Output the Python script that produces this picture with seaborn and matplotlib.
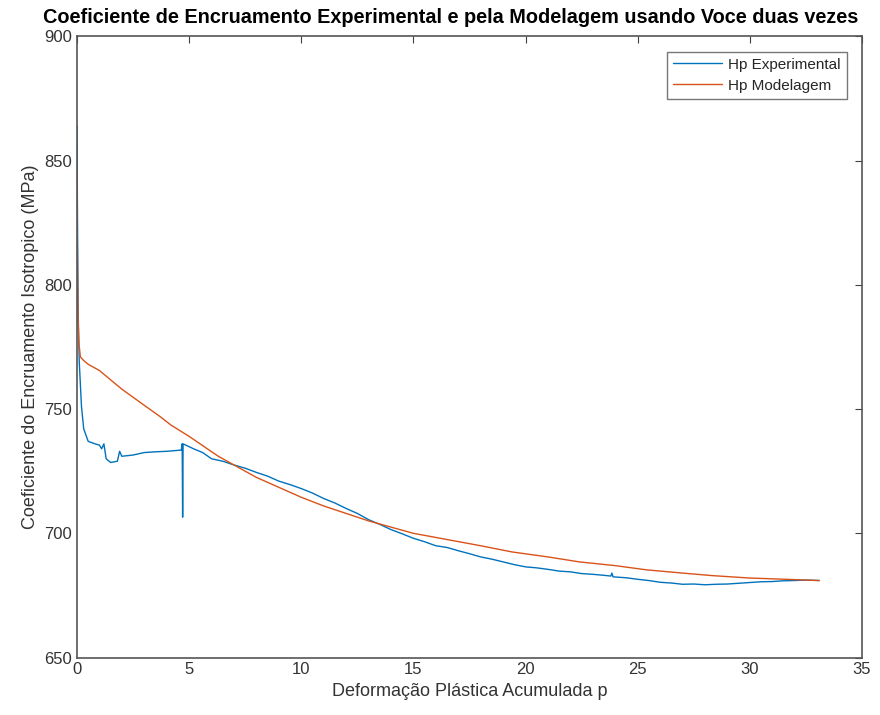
import pandas as pd
import matplotlib.pyplot as plt
import seaborn as sns

# dados
p_exp = [0.0, 0.01, 0.02, 0.05, 0.1, 0.2, 0.3, 0.5, 0.8, 1.0, 1.1, 1.2, 1.3, 1.5, 1.8, 1.9,
         2.0, 2.5, 3.0, 3.5, 4.0, 4.65, 4.69, 4.71, 4.73, 5.2, 5.6, 6.0, 6.5, 7.0, 7.5, 8.0,
         8.5, 9.0, 9.5, 10.0, 10.5, 11.0, 11.5, 12.0, 12.5, 13.0, 13.5, 14.0, 14.5, 15.0,
         15.5, 16.0, 16.5, 17.0, 17.5, 18.0, 18.5, 19.0, 19.5, 20.0, 20.5, 21.0, 21.5, 22.0,
         22.5, 23.0, 23.5, 23.8, 23.85, 23.9, 24.5, 25.0, 25.5, 26.0, 26.5, 27.0, 27.5, 28.0,
         28.5, 29.0, 29.5, 30.0, 30.5, 31.0, 31.5, 32.0, 32.5, 33.1]
hp_exp = [864, 845, 829, 789, 769, 751, 742, 737, 736, 735.5, 734, 736, 730, 728.5, 729, 733,
          731, 731.5, 732.5, 732.8, 733, 733.5, 736, 706.5, 736, 734, 732.5, 730, 729, 727.5,
          726.2, 724.5, 723, 721, 719.6, 718, 716.2, 714, 712.2, 710, 708, 705.5, 703.6, 701.5,
          699.8, 698, 696.6, 695, 694.3, 693, 691.8, 690.5, 689.6, 688.5, 687.4, 686.5, 686.1,
          685.5, 684.8, 684.5, 683.8, 683.5, 683.1, 682.8, 684, 682.5, 682.1, 681.5, 681.0,
          680.3, 680.0, 679.5, 679.6, 679.3, 679.5, 679.6, 679.9, 680.2, 680.5, 680.6, 680.9,
          681.0, 681.2, 681.0]

p_mod = [0.0, 0.01, 0.03, 0.05, 0.08, 0.15, 0.3, 0.5, 1.0, 2.0, 3.0, 3.7, 4.2, 5.0, 6.3, 7.0,
         8.0, 9.0, 10.0, 11.0, 12.0, 13.0, 14.0, 15.0, 16.5, 18.0, 19.4, 21.0, 22.4, 24.0,
         25.4, 27.0, 28.3, 30.0, 31.3, 33.1]
hp_mod = [845, 820, 799, 786, 777, 771, 769.5, 768, 765.5, 758, 751.5, 747, 743.5, 739, 731,
          727.5, 722.5, 718.5, 714.5, 711, 708, 705, 702.5, 700, 697.5, 695, 692.5, 690.5,
          688.5, 687, 685.3, 684, 683, 682, 681.6, 681]

df_exp = pd.DataFrame({'p': p_exp, 'Hp': hp_exp})
df_mod = pd.DataFrame({'p': p_mod, 'Hp': hp_mod})

sns.set_style('white')
plt.rcParams['font.family'] = ['Liberation Sans', 'DejaVu Sans']
cinza = '#404040'
plt.rcParams['xtick.direction'] = 'in'
plt.rcParams['ytick.direction'] = 'in'

fig = plt.figure(figsize=(8.8, 7.15), dpi=100)
ax = fig.add_axes([0.0875, 0.0803, 0.892, 0.869])

sns.lineplot(data=df_exp, x='p', y='Hp', ax=ax, color='#0072BD', linewidth=1.0,
             label='Hp Experimental', sort=False, estimator=None)
sns.lineplot(data=df_mod, x='p', y='Hp', ax=ax, color='#D95319', linewidth=1.0,
             label='Hp Modelagem', sort=False, estimator=None)

ax.set_xlim(0, 35)
ax.set_ylim(650, 900)
ax.set_xticks(range(0, 36, 5))
ax.set_yticks(range(650, 901, 50))
ax.tick_params(axis='both', colors=cinza, labelsize=12, length=5, width=0.8,
               top=True, right=True, labelcolor='#333333')
for s in ax.spines.values():
    s.set_color('#555555')
    s.set_linewidth(1.2)

# título centrado na figura (como no original)
fig.suptitle('Coeficiente de Encruamento Experimental e pela Modelagem usando Voce duas vezes',
             x=0.5125, y=0.962, va='bottom', fontsize=14.3, fontweight='bold', color='black')
ax.set_xlabel('Deformação Plástica Acumulada p', fontsize=13, color='#333333')
ax.set_ylabel('Coeficiente do Encruamento Isotropico (MPa)', fontsize=13, color='#333333')

leg = ax.legend(loc='upper right', fontsize=11, frameon=True, fancybox=False,
                handlelength=3.2, handletextpad=0.4, borderpad=0.4, labelspacing=0.45,
                borderaxespad=1.0)
leg.get_frame().set_edgecolor('#555555')
leg.get_frame().set_linewidth(1.0)

plt.savefig('out.png', dpi=100)
